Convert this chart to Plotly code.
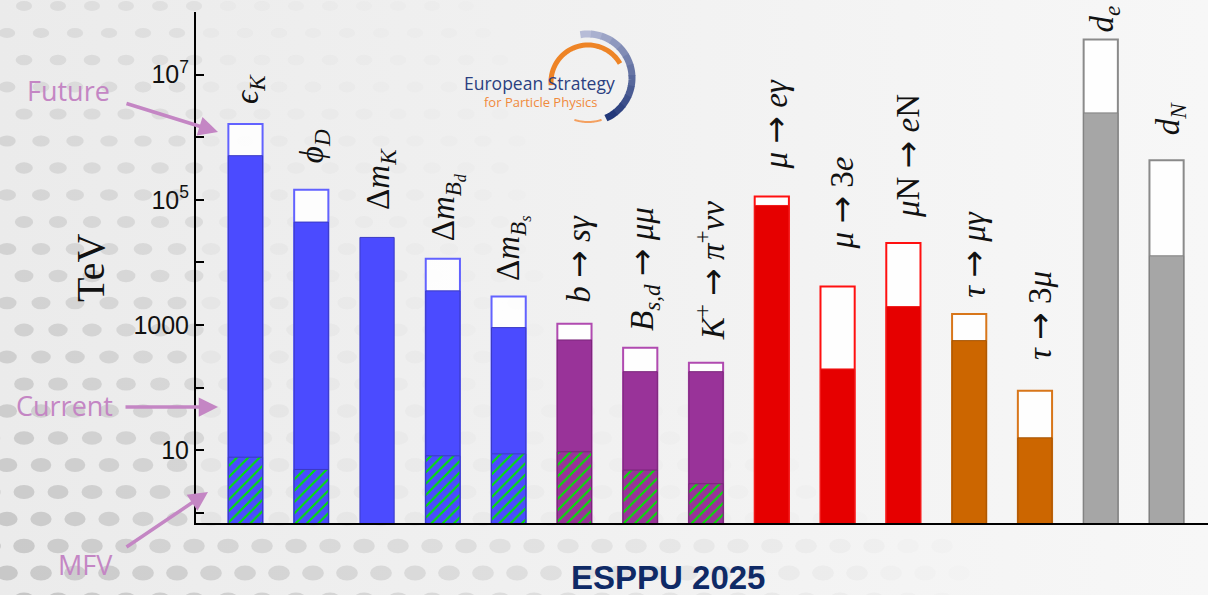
import base64
import numpy as np
import plotly.graph_objects as go

# ---------------- data ----------------
categories = [
    "eps_K", "phi_D", "dm_K", "dm_Bd", "dm_Bs", "b_sgamma", "Bsd_mumu",
    "K_pinunu", "mu_egamma", "mu_3e", "muN_eN", "tau_mugamma", "tau_3mu",
    "d_e", "d_N",
]
AR = ' <span style="font-family:DejaVu Sans">→</span> '
labels = [
    "<i>ϵ</i><sub><i>K</i></sub>",
    "<i>ϕ</i><sub><i>D</i></sub>",
    "Δ<i>m</i><sub><i>K</i></sub>",
    "Δ<i>m</i><sub><i>B<sub>d</sub></i></sub>",
    "Δ<i>m</i><sub><i>B<sub>s</sub></i></sub>",
    f"<i>b</i>{AR}<i>sγ</i>",
    f"<i>B</i><sub><i>s,d</i></sub>{AR}<i>μμ</i>",
    f"<i>K</i><sup>+</sup>{AR}<i>π</i><sup>+</sup><i>νν</i>",
    f"<i>μ</i>{AR}<i>eγ</i>",
    f"<i>μ</i>{AR}3<i>e</i>",
    f"<i>μ</i>N{AR}<i>e</i>N",
    f"<i>τ</i>{AR}<i>μγ</i>",
    f"<i>τ</i>{AR}3<i>μ</i>",
    "<i>d</i><sub><i>e</i></sub>",
    "<i>d</i><sub><i>N</i></sub>",
]
# scales probed (TeV)
future_tev = [1.63e6, 1.45e5, None, 1.14e4, 2840, 1040, 433, 249,
              1.13e5, 4100, 2.03e4, 1500, 89, 3.63e7, 4.26e5]
current_tev = [5.06e5, 4.4e4, 2.5e4, 3500, 906, 575, 179, 179,
               8.1e4, 198, 1963, 561, 15.7, 2.44e6, 1.27e4]
mfv_tev = [7.7, 4.9, None, 8.1, 8.7, 9.4, 4.8, 2.9,
           None, None, None, None, None, None, None]
sector = ["quark", "quark", "quark", "quark", "quark", "bdecay", "bdecay",
          "bdecay", "lfv", "lfv", "lfv", "tau", "tau", "edm", "edm"]
ytick_vals = [1, 10, 100, 1e3, 1e4, 1e5, 1e6, 1e7, 1e8]
ytick_text = ["", "10", "", "1000", "", "10<sup>5</sup>", "", "10<sup>7</sup>", ""]

# ---------------- styling ----------------
fill = {"quark": "#4b4bff", "bdecay": "#993399", "lfv": "#e60000",
        "tau": "#cc6600", "edm": "#a6a6a6"}
edge = {"quark": "#3a3ac4", "bdecay": "#7a267a", "lfv": "#f01a1a",
        "tau": "#a35200", "edm": "#808080"}
outline = {"quark": "#6262ff", "bdecay": "#b04ab0", "lfv": "#ff1010",
           "tau": "#d8761a", "edm": "#8a8a8a"}
# height (TeV) at which each rotated label starts
label_base_tev = [3.2e6, 3.6e5, 6.4e4, 2.0e4, 4.7e3, 2.1e3, 7.5e2, 5.2e2,
                  2.8e5, 1.5e4, 4.8e4, 2.5e3, 2.6e2, 4.4e7, 9.8e5]

W, H = 1208, 595
ML, MR, MT, MB = 196, 0, 12, 72
PW, PH = W - ML - MR, H - MT - MB
BAR_W = 0.52
idx = list(range(len(categories)))


def px(xp):
    return (xp - ML) / PW


def py(yp):
    return (H - MB - yp) / PH


fill_c = [fill[s] for s in sector]
edge_c = [edge[s] for s in sector]
out_c = [outline[s] for s in sector]

fig = go.Figure()
fig.add_trace(go.Bar(
    x=idx, y=future_tev, width=BAR_W, name="Future",
    marker=dict(color="rgba(255,255,255,0.88)", line=dict(color=out_c, width=2)),
    hoverinfo="skip"))
fig.add_trace(go.Bar(
    x=idx, y=current_tev, width=BAR_W, name="Current",
    marker=dict(color=fill_c, line=dict(color=edge_c, width=1)),
    hoverinfo="skip"))
# minimal-flavour-violation reach, hatched, one trace per colour group
for grp in ["quark", "bdecay"]:
    yv = [v if s == grp else None for v, s in zip(mfv_tev, sector)]
    fig.add_trace(go.Bar(
        x=idx, y=yv, width=BAR_W, name="MFV",
        marker=dict(color=fill[grp], line=dict(color=edge[grp], width=1),
                    pattern=dict(shape="/", fgcolor="#00e600", bgcolor=fill[grp],
                                 fgopacity=1, size=8, solidity=0.25,
                                 fillmode="replace")),
        hoverinfo="skip"))

annotations = []
# rotated process labels above the bars
for i, (lab, base) in enumerate(zip(labels, label_base_tev)):
    annotations.append(dict(
        x=i, y=np.log10(base), xref="x", yref="y", text=lab, showarrow=False,
        textangle=-90, xanchor="center", yanchor="bottom", xshift=4,
        font=dict(family="Liberation Serif", size=33, color="#111111")))


def note(x, y, text, font, **kw):
    d = dict(x=px(x), y=py(y), xref="paper", yref="paper", text=text,
             showarrow=False, xanchor="center", yanchor="middle", font=font)
    d.update(kw)
    return d


# axis title
annotations.append(note(90, 268, "TeV",
                        dict(family="Liberation Serif", size=40, color="#111111"),
                        textangle=-90))

# explanatory callouts
pink = "#c486c4"
for txt, (tx, ty), (hx, hy), (sx, sy) in [
    ("Future", (68, 90), (218, 132), (125, 103)),
    ("Current", (64, 405), (218, 407), (124, 407)),
    ("MFV", (85, 565), (208, 492), (125, 548)),
]:
    annotations.append(note(tx, ty, txt, dict(family="Open Sans", size=27, color=pink)))
    annotations.append(dict(
        x=px(hx), y=py(hy), xref="paper", yref="paper", text="",
        showarrow=True, ax=sx - hx, ay=sy - hy, axref="pixel", ayref="pixel",
        arrowhead=2, arrowsize=1.1, arrowwidth=3.5, arrowcolor=pink, standoff=0))

annotations.append(note(668, 577, "<b>ESPPU 2025</b>",
                        dict(family="Liberation Sans", size=33, color="#0f2a66")))

# logo text
annotations.append(note(539, 83, "European Strategy",
                        dict(family="Open Sans", size=17.5, color="#2b3f80")))
annotations.append(note(541, 102, "for Particle Physics",
                        dict(family="Open Sans", size=13, color="#f08a3c")))

# logo arcs
shapes = []


def arc_path(cx, cy, r, t0, t1, n=40):
    ts = np.radians(np.linspace(t0, t1, n))
    pts = [(px(cx + r * np.cos(t)), py(cy - r * np.sin(t))) for t in ts]
    return "M " + " L ".join(f"{a:.5f},{b:.5f}" for a, b in pts)


shapes.append(dict(type="path", xref="paper", yref="paper",
                   path=arc_path(588, 82, 37, 185, 30),
                   line=dict(color="#ee8426", width=5)))
nseg = 12
angles = np.linspace(100, -65, nseg + 1)
c0 = np.array([190, 195, 220])
c1 = np.array([28, 50, 118])
for k in range(nseg):
    c = c0 + (c1 - c0) * (k + 0.5) / nseg
    shapes.append(dict(type="path", xref="paper", yref="paper",
                       path=arc_path(588, 78, 44, angles[k], angles[k + 1] - 1, n=6),
                       line=dict(color=f"rgb({int(c[0])},{int(c[1])},{int(c[2])})", width=7)))
shapes.append(dict(type="path", xref="paper", yref="paper",
                   path=arc_path(588, 78, 44, -72, -108),
                   line=dict(color="#f4a060", width=2)))

# textured backdrop
parts = [f'<svg xmlns="http://www.w3.org/2000/svg" width="{W}" height="{H}" viewBox="0 0 {W} {H}">',
         '<defs><linearGradient id="g" x1="0" x2="1" y1="0" y2="0">'
         '<stop offset="0" stop-color="#ebebeb"/><stop offset="1" stop-color="#f7f7f7"/>'
         '</linearGradient></defs>',
         f'<rect width="{W}" height="{H}" fill="url(#g)"/>']
row = 0
for yy in np.arange(6, H + 20, 27):
    off = 17 if row % 2 else 0
    for xx in np.arange(-10 + off, W + 20, 34):
        wl = np.clip(1 - xx / 620, 0, 1) * (0.45 + 0.55 * yy / H)
        wb = np.clip((yy - 330) / 265, 0, 1) * np.clip(1 - xx / 1000, 0, 1)
        a = 0.55 * max(wl, wb)
        if ML < xx < W and yy < H - MB:
            a *= 0.4
        if a > 0.02:
            rx = 8 + 3 * yy / H
            ry = 5 + 2.5 * yy / H
            parts.append(f'<ellipse cx="{xx:.1f}" cy="{yy:.1f}" rx="{rx:.1f}" ry="{ry:.1f}" '
                         f'fill="#a9a9a9" fill-opacity="{a:.2f}"/>')
    row += 1
parts.append("</svg>")
bg_uri = "data:image/svg+xml;base64," + base64.b64encode("".join(parts).encode()).decode()

fig.update_layout(
    width=W, height=H, autosize=False,
    margin=dict(l=ML, r=MR, t=MT, b=MB, pad=0),
    barmode="overlay", showlegend=False,
    paper_bgcolor="#f0f0f0", plot_bgcolor="rgba(0,0,0,0)",
    annotations=annotations, shapes=shapes,
    images=[dict(source=bg_uri, xref="paper", yref="paper", x=px(0), y=py(0),
                 sizex=W / PW, sizey=H / PH, xanchor="left", yanchor="top",
                 sizing="stretch", layer="below")],
    xaxis=dict(range=[-0.752, 14.63], showticklabels=False, ticks="",
               showgrid=False, zeroline=False, showline=True,
               linecolor="#000000", linewidth=2),
    yaxis=dict(type="log", range=[-0.165, 8.0], tickvals=ytick_vals,
               ticktext=ytick_text, ticks="inside", ticklen=8, tickwidth=1.5,
               tickcolor="#000000", showgrid=False, zeroline=False,
               showline=True, linecolor="#000000", linewidth=2,
               tickfont=dict(family="Liberation Sans", size=25, color="#111111")),
)

fig.write_html("out.html")
